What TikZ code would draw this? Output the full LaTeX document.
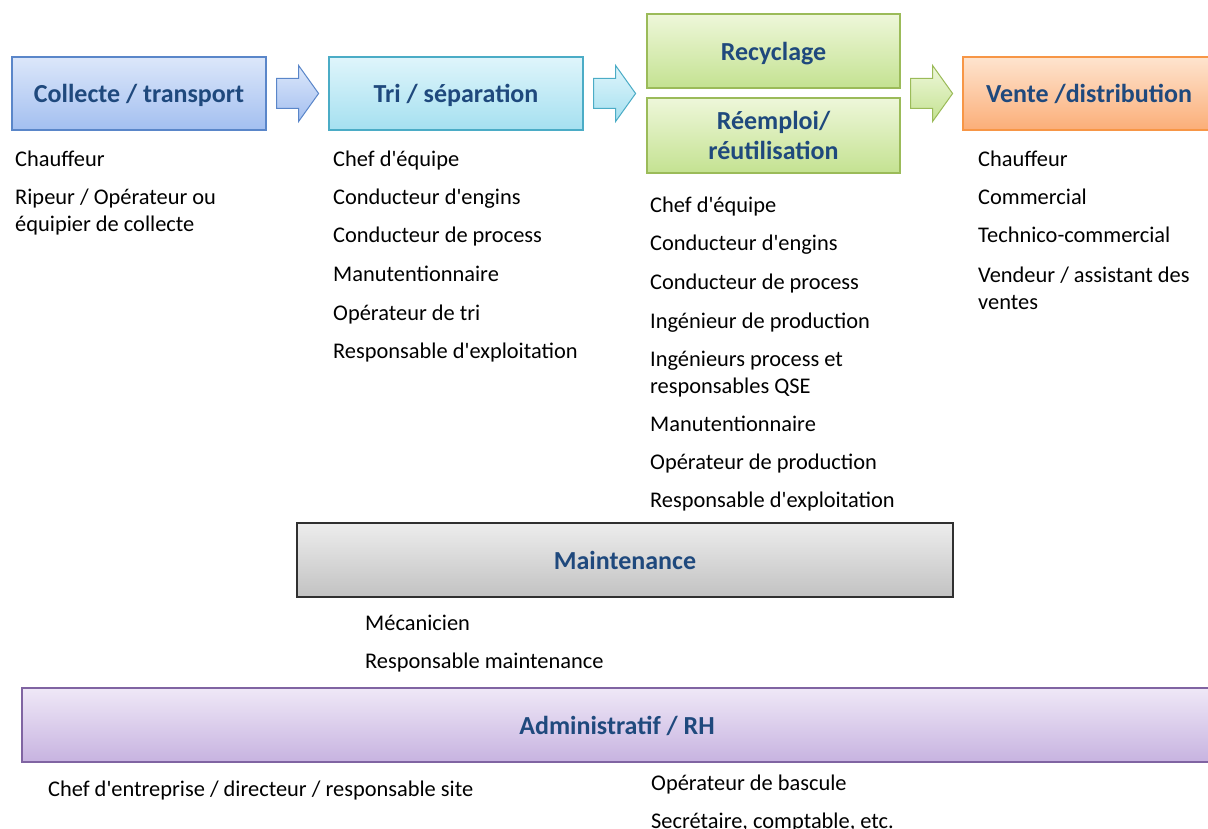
\documentclass[tikz,border=0pt]{standalone}
\usepackage{fontspec}
\setmainfont{Carlito}[Ligatures=TeXOff]
\usetikzlibrary{calc}

\definecolor{titleblue}{HTML}{1F497D}
\tikzset{
  stage/.style={draw, line width=1.2pt, minimum width=254pt, minimum height=73pt,
    inner sep=0pt, align=center, text=titleblue, text depth=0pt,
    font=\fontsize{26}{30}\selectfont\bfseries},
  stageblue/.style={stage, draw={rgb,255:red,90;green,134;blue,201},
    top color={rgb,255:red,220;green,231;blue,250}, bottom color={rgb,255:red,163;green,191;blue,240}},
  stagecyan/.style={stage, draw={rgb,255:red,75;green,172;blue,198},
    top color={rgb,255:red,223;green,245;blue,251}, bottom color={rgb,255:red,165;green,224;blue,240}},
  stagegreen/.style={stage, draw={rgb,255:red,155;green,187;blue,89},
    top color={rgb,255:red,238;green,247;blue,218}, bottom color={rgb,255:red,196;green,226;blue,145}},
  stageorange/.style={stage, draw={rgb,255:red,247;green,150;blue,70},
    top color={rgb,255:red,254;green,228;blue,207}, bottom color={rgb,255:red,251;green,174;blue,120}},
  stagegray/.style={stage, draw={rgb,255:red,48;green,48;blue,48},
    top color={rgb,255:red,237;green,237;blue,237}, bottom color={rgb,255:red,194;green,194;blue,194}},
  stagepurple/.style={stage, draw={rgb,255:red,128;green,100;blue,162},
    top color={rgb,255:red,239;green,232;blue,247}, bottom color={rgb,255:red,199;green,179;blue,224}},
  job/.style={anchor=base west, inner sep=0pt, align=left,
    font=\fontsize{22.4}{27}\selectfont},
  flowarrow/.pic={
    \path[pic actions] (0,-15) -- (22,-15) -- (22,-28) -- (42,0) -- (22,28)
      -- (22,15) -- (0,15) -- cycle;
  },
}

\begin{document}
\begin{tikzpicture}[x=1pt, y=-1pt]
\useasboundingbox (0,0) rectangle (1208,829);
% Process stages
\node[stageblue] (collecte) at (139,93.5) {Collecte / transport};
\node[stagecyan] (tri) at (456,93.5) {Tri / séparation};
\node[stagegreen, minimum width=253pt, minimum height=74pt] (recyclage) at (773.5,51) {Recyclage};
\node[stagegreen, minimum width=253pt, minimum height=75pt] (reemploi) at (773.5,135.5) {Réemploi/\\réutilisation};
\node[stageorange, minimum width=252pt] (vente) at (1089,93.5) {Vente /distribution};
% Arrows between stages
\pic[draw={rgb,255:red,90;green,134;blue,201}, line width=1pt,
  top color={rgb,255:red,220;green,231;blue,250}, bottom color={rgb,255:red,163;green,191;blue,240}]
  at ($(collecte.east)+(10,0)$) {flowarrow};
\pic[draw={rgb,255:red,75;green,172;blue,198}, line width=1pt,
  top color={rgb,255:red,223;green,245;blue,251}, bottom color={rgb,255:red,165;green,224;blue,240}]
  at ($(tri.east)+(10,0)$) {flowarrow};
\pic[draw={rgb,255:red,155;green,187;blue,89}, line width=1pt,
  top color={rgb,255:red,238;green,247;blue,218}, bottom color={rgb,255:red,196;green,226;blue,145}]
  at ($(recyclage.east |- vente.west)+(10,0)$) {flowarrow};
% Jobs under each stage (base of a wrapped item = its last line)
\foreach \y/\t [count=\i] in {167/Chauffeur, 232/{Ripeur / Opérateur ou\\équipier de collecte}}
  \node[job] (coljob\i) at (15,\y) {\t};
\foreach \y/\t [count=\i] in {167/Chef d'équipe, 205/Conducteur d'engins, 243/Conducteur de process,
    281/Manutentionnaire, 320/Opérateur de tri, 358/Responsable d'exploitation}
  \node[job] (trijob\i) at (333,\y) {\t};
\foreach \y/\t [count=\i] in {213/Chef d'équipe, 251/Conducteur d'engins, 290/Conducteur de process,
    328/Ingénieur de production, 393/{Ingénieurs process et\\responsables QSE},
    431/Manutentionnaire, 469/Opérateur de production, 507/Responsable d'exploitation}
  \node[job] (recjob\i) at (650,\y) {\t};
\foreach \y/\t [count=\i] in {167/Chauffeur, 205/Commercial, 243/Technico-commercial,
    309/{Vendeur / assistant des\\ventes}}
  \node[job] (venjob\i) at (978,\y) {\t};
% Maintenance
\node[stagegray, minimum width=656pt, minimum height=74pt] (maintenance) at (625,560) {Maintenance};
\node[job] (mainjob1) at (365,630) {Mécanicien};
\node[job] (mainjob2) at (365,668) {Responsable maintenance};
% Administratif
\node[stagepurple, minimum width=1190pt, minimum height=74pt] (admin) at (617,725) {Administratif / RH};
\node[job] (adminjob1) at (48,796) {Chef d'entreprise / directeur / responsable site};
\node[job] (adminjob2) at (651,790) {Opérateur de bascule};
\node[job] (adminjob3) at (651,828) {Secrétaire, comptable, etc.};
\end{tikzpicture}
\end{document}
